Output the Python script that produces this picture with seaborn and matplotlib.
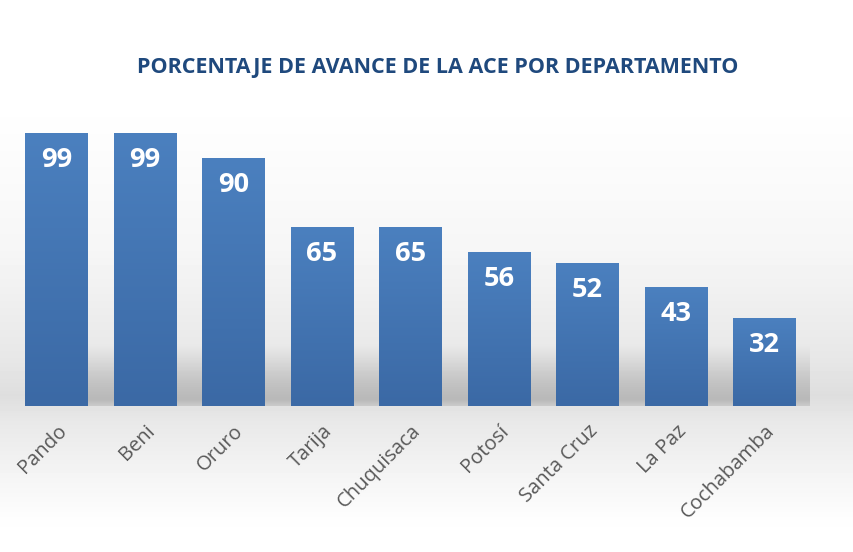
import numpy as np
import pandas as pd
import matplotlib
matplotlib.use("Agg")
import matplotlib.pyplot as plt
import seaborn as sns
from matplotlib.colors import LinearSegmentedColormap

# ── Data ──────────────────────────────────────────────────
departamentos = ["Pando", "Beni", "Oruro", "Tarija", "Chuquisaca",
                 "Potosí", "Santa Cruz", "La Paz", "Cochabamba"]
avance = [99, 99, 90, 65, 65, 56, 52, 43, 32]
titulo = "PORCENTAJE DE AVANCE DE LA ACE POR DEPARTAMENTO"

df = pd.DataFrame({"Departamento": departamentos, "Avance": avance})

# ── Style ─────────────────────────────────────────────────
sns.set_theme(style="white")
plt.rcParams["font.family"] = ["Open Sans", "DejaVu Sans"]

fig = plt.figure(figsize=(8.54, 5.52), dpi=100)

# background gradient (whole figure)
bg = fig.add_axes([0, 0, 1, 1], zorder=0)
bg.set_axis_off()
rows = np.arange(552)  # 0 = top
shade = np.interp(rows,
                  [0, 100, 250, 360, 395, 420, 470, 520, 552],
                  [1.0, 1.0, 0.965, 0.905, 0.87, 0.91, 0.955, 0.995, 1.0])
bg_img = np.repeat(shade[:, None], 10, axis=1)
bg.imshow(bg_img, cmap="gray", vmin=0, vmax=1, aspect="auto",
          extent=[0, 1, 0, 1], origin="upper")
bg.set_xlim(0, 1)
bg.set_ylim(0, 1)

# main axes
ax = fig.add_axes([0.0091, 1 - 406 / 552, (809 - 7.8) / 854, (406 - 102.6) / 552], zorder=1)
ax.patch.set_alpha(0)

sns.barplot(data=df, x="Departamento", y="Avance", color="#4a7ebb",
            width=0.71, saturation=1, linewidth=0, ax=ax, zorder=3)

# soft shadow band behind the bars
shadow_cmap = LinearSegmentedColormap.from_list(
    "shadow", [(0.5, 0.5, 0.5, 0.0), (0.5, 0.5, 0.5, 0.4)])
shadow = np.interp(np.linspace(0, 1, 80), [0, 0.6, 0.9, 1.0], [0, 0.75, 1.0, 0.6])[:, None]
ax.imshow(shadow, cmap=shadow_cmap, vmin=0, vmax=1, aspect="auto", origin="upper",
          extent=[-0.2, len(departamentos) - 0.5, 0, 22], zorder=2)

# gradient fill for each bar
bar_cmap = LinearSegmentedColormap.from_list("bar", ["#3b69a5", "#4b80bf"])
grad = np.linspace(0, 1, 100)[:, None]
for patch in ax.patches:
    x0, y0 = patch.get_x(), patch.get_y()
    w, h = patch.get_width(), patch.get_height()
    im = ax.imshow(grad, cmap=bar_cmap, aspect="auto", origin="lower",
                   extent=[x0, x0 + w, y0, y0 + h], zorder=4)
    im.set_clip_path(patch)
ax.set_xlim(-0.55, len(departamentos) - 0.5)
ax.set_ylim(0, 110)

# value labels
for i, v in enumerate(avance):
    ax.text(i, v - 9.8, str(v), ha="center", va="center", color="white",
            fontsize=19.5, fontweight="bold", zorder=5)

ax.set_xlabel("")
ax.set_ylabel("")
ax.set_yticks([])
ax.tick_params(axis="x", length=0, pad=11)
for lab in ax.get_xticklabels():
    lab.set_rotation(45)
    lab.set_ha("right")
    lab.set_rotation_mode("anchor")
    lab.set_fontsize(14.5)
    lab.set_color("#595959")
for s in ax.spines.values():
    s.set_visible(False)

fig.text(438 / 854, 1 - 68 / 552, titulo, ha="center", va="center",
         fontsize=15.5, fontweight="bold", color="#1f497d")

fig.savefig("out.png", dpi=100)
plt.close(fig)
